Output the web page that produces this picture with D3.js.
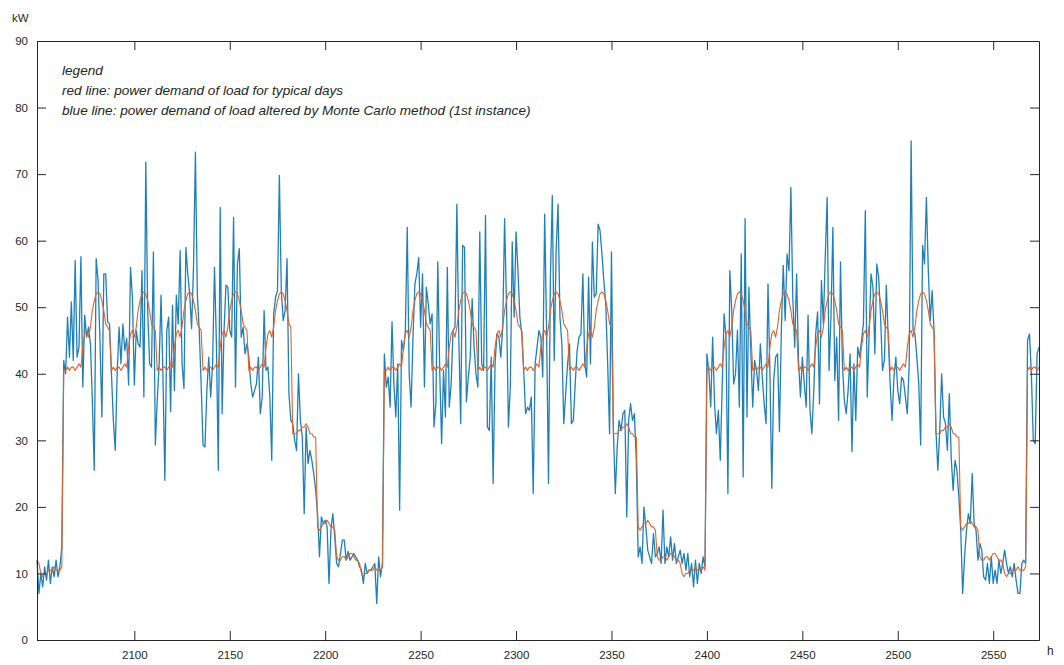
<!doctype html>
<html>
<head>
<meta charset="utf-8">
<title>Power demand of load</title>
<script src="https://cdn.jsdelivr.net/npm/d3@7"></script>
<style>
  body { margin: 0; background: #fff; }
  svg text { font-family: "Liberation Sans", Arial, sans-serif; fill: #262626; }
</style>
</head>
<body>
<svg id="chart" width="1064" height="665"></svg>
<script>
// first hour shown on the chart
var startHour = 2049;

// blue line: load altered by Monte Carlo method, one value per hour from startHour
var blue = [
  12, 7, 10, 8, 11, 9, 12, 8.5, 11, 9.5,
  12, 9.5, 11, 14, 42, 40, 48.5, 42.5, 50.8, 42,
  57, 42.5, 44, 57.6, 38, 48.8, 45.5, 47, 44.5, 36,
  25.5, 57.3, 54, 45, 33.5, 55, 55, 47.8, 47.5, 40,
  33, 28.5, 40, 47, 41.5, 47.5, 43.5, 45.3, 38.3, 56,
  51.5, 38.3, 46.5, 44.5, 44, 55.5, 36.5, 71.8, 49.5, 41.5,
  41, 58.3, 29.3, 36, 41.5, 51.8, 39.5, 24, 46.5, 48.5,
  34.3, 50.3, 37.5, 51.8, 47.5, 58.5, 41.5, 37.8, 59, 55,
  52, 46.8, 56, 73.3, 52, 46.5, 38.5, 29.3, 29, 37.5,
  42.5, 36.5, 41.5, 56, 44.5, 25.5, 65, 34, 46.5, 53.3,
  53, 46.5, 45.5, 63.5, 38, 56.5, 58.8, 45.5, 47, 43,
  44.5, 42.5, 38.5, 36.5, 37.5, 38.5, 42.5, 34, 36.5, 49.5,
  40.5, 41, 36.5, 27, 49, 51.5, 52.5, 69.8, 52.5, 48,
  49.5, 57.3, 37, 33, 32.5, 30, 28.5, 40, 33, 30.5,
  19, 32, 26.5, 28.5, 27, 25, 22.5, 19, 12.5, 18.5,
  17.5, 18, 17, 8.5, 16.5, 19, 15.5, 11.5, 11, 13,
  15, 15, 12, 13.3, 12, 12.5, 13, 12.5, 12, 11,
  10.5, 8.5, 11.5, 10, 10.5, 10.5, 11, 11.5, 5.5, 12.5,
  9.5, 11.5, 43, 38, 39.5, 35, 47.8, 38.5, 33.5, 41.5,
  19.5, 45, 43.5, 46.5, 62, 40, 35, 45.5, 53.5, 55,
  57.5, 47, 55, 38, 53, 50.5, 47.5, 49, 32, 35.5,
  56.8, 40.5, 29.5, 40.5, 33.5, 56, 35, 38.5, 46.5, 47,
  65.5, 45.5, 32.5, 59.3, 59, 35.8, 39.5, 42.5, 51.3, 44,
  40, 38, 61.3, 41.5, 40.5, 63.8, 32, 31.5, 42.5, 23.5,
  41.5, 46, 45.5, 42.5, 46.8, 63.3, 50.5, 32, 38, 59.8,
  48.5, 61.3, 55.5, 48.5, 46, 40.5, 34, 35, 34.5, 36.5,
  22, 41.5, 44, 46.5, 45.5, 39.5, 64, 46.5, 23.5, 54.5,
  66.8, 42, 58.5, 65.5, 48.5, 44.5, 32.5, 37, 41.5, 44.5,
  32.5, 33, 38.5, 43.5, 45.5, 46, 55, 41.5, 39.5, 54.5,
  41.5, 59.8, 51.5, 52, 62.5, 61.5, 58, 54, 50.5, 41.5,
  31, 58.3, 31.5, 22, 29, 33, 31.5, 34, 34.5, 18.5,
  33, 35.5, 33, 34, 27, 12.5, 14, 11.5, 20, 17,
  13.5, 12.5, 11.5, 16, 12.5, 13, 14, 11.5, 19.5, 11.5,
  14, 12.5, 15.5, 12, 14.5, 11.5, 12.5, 13.5, 11.5, 13,
  10.5, 13, 9.5, 11.5, 8, 12, 8.5, 11.5, 10, 12.5,
  11, 43, 40.5, 35, 45.5, 35.5, 31, 34.5, 27, 38,
  49, 45.5, 22, 55.5, 49.5, 38.5, 40, 46.5, 35, 58,
  24.5, 63.3, 33.5, 53, 43.5, 35, 42, 40.5, 37.5, 44.5,
  39.5, 35.5, 32.5, 53.5, 40.5, 22.8, 39, 42.5, 43, 31.3,
  46.5, 56.3, 48, 58, 55.5, 68, 51.5, 44, 55, 42,
  36.5, 42.5, 38.5, 35, 48.8, 34.5, 31, 37.5, 46, 49.3,
  35.5, 54, 47.5, 57.5, 66.5, 40.5, 48.5, 62, 39, 45.5,
  33, 56.8, 41.5, 36, 34, 37.5, 43, 28.3, 41.5, 33,
  44, 42.5, 45, 47.5, 64.5, 36.5, 46, 55, 53, 43,
  56.5, 54.5, 48.5, 40.5, 42, 53.3, 45.5, 38.5, 33, 39.5,
  42.5, 37.5, 35.5, 39.5, 39, 36.5, 34, 41.5, 75, 46.5,
  46, 42.5, 38.5, 29.3, 59.3, 56.5, 66.5, 55.5, 48, 52.5,
  46.5, 31.5, 25.5, 31.5, 40, 33.5, 32.5, 28.5, 37, 27.5,
  22.5, 27, 25.5, 21.5, 16.5, 7, 12.5, 16.5, 19, 17.5,
  25, 17.5, 16.5, 12, 14.5, 13.5, 9.5, 9, 11.5, 8.5,
  12.5, 8.5, 10.5, 8.5, 12, 10, 11.5, 13.5, 11.5, 10,
  11, 9.5, 11.5, 9, 7, 7, 11.5, 12, 11.5, 45,
  46, 40, 30, 29.5, 43, 44
];

// red line: typical working day, by hour of day (0..23)
var weekday = [40.5, 41, 40.5, 41, 41, 40.5, 41, 41.5, 41, 44, 46, 46.5,
               45.5, 47, 49.5, 51, 52, 52.3, 52, 51, 49.5, 47.5, 47, 46.5];

// red line: typical weekend, hours counted from the start of the weekend
var weekend = [31, 31, 31, 31.5, 31.5, 32, 32, 32.5, 32, 31, 31, 30.5, 30.5,
               17, 16.5, 17, 17.5, 17.5, 18, 17.5, 17, 17, 16.5,
               12.5, 12, 12, 12.5, 12.5, 12, 12.5, 13, 13, 12.5, 12, 12, 11.5,
               10, 9.5, 10, 10, 10.5, 10.5, 10.5, 11, 10.5, 10.5, 10.5, 11, 10.5];

var weekStarts = [2063, 2231, 2400, 2568];
var weekendStarts = [2015, 2183, 2351, 2520];

var xTicks = [2100, 2150, 2200, 2250, 2300, 2350, 2400, 2450, 2500, 2550];
var yTicks = [0, 10, 20, 30, 40, 50, 60, 70, 80, 90];

var legendLines = [
  "legend",
  "red line: power demand of load for typical days",
  "blue line: power demand of load altered by Monte Carlo method (1st instance)"
];

var hours = d3.range(startHour, startHour + blue.length);

var red = hours.map(function(h) {
  var wk = d3.max(weekStarts.filter(function(s) { return s <= h; }));
  var we = d3.max(weekendStarts.filter(function(s) { return s <= h; }));
  if (wk === undefined || we > wk) {
    return weekend[Math.min(h - we, weekend.length - 1)];
  }
  return h === wk ? weekday[0] : weekday[h % 24];
});

var svg = d3.select("#chart");
var plotLeft = 37, plotRight = 1039, plotTop = 41, plotBottom = 640;

var x = d3.scaleLinear().domain([startHour, 2574]).range([plotLeft, plotRight]);
var y = d3.scaleLinear().domain([0, 90]).range([plotBottom, plotTop]);

var line = d3.line()
  .x(function(d) { return x(d[0]); })
  .y(function(d) { return y(d[1]); });

svg.append("path")
  .datum(hours.map(function(h, i) { return [h, blue[i]]; }))
  .attr("d", line)
  .attr("fill", "none")
  .attr("stroke", "#1f80b9")
  .attr("stroke-width", 1.3)
  .attr("stroke-linejoin", "round");

svg.append("path")
  .datum(hours.map(function(h, i) { return [h, red[i]]; }))
  .attr("d", line)
  .attr("fill", "none")
  .attr("stroke", "#e0622a")
  .attr("stroke-width", 1.1)
  .attr("stroke-linejoin", "round");

// axes with inward ticks, MATLAB style box
var tick = 9;
var fmt = d3.format("d");
svg.append("g").attr("transform", "translate(0," + plotBottom + ")")
  .call(d3.axisBottom(x).tickValues(xTicks).tickSizeInner(-tick).tickSizeOuter(0).tickPadding(11).tickFormat(fmt));
svg.append("g").attr("transform", "translate(0," + plotTop + ")")
  .call(d3.axisTop(x).tickValues(xTicks).tickSizeInner(-tick).tickSizeOuter(0).tickFormat(""));
svg.append("g").attr("transform", "translate(" + plotLeft + ",0)")
  .call(d3.axisLeft(y).tickValues(yTicks).tickSizeInner(-tick).tickSizeOuter(0).tickPadding(9).tickFormat(fmt));
svg.append("g").attr("transform", "translate(" + plotRight + ",0)")
  .call(d3.axisRight(y).tickValues(yTicks).tickSizeInner(-tick).tickSizeOuter(0).tickFormat(""));

svg.selectAll(".domain").attr("stroke", "#262626");
svg.selectAll(".tick line").attr("stroke", "#262626");
svg.selectAll(".tick text")
  .attr("font-family", "Liberation Sans, Arial, sans-serif")
  .attr("font-size", 11.5)
  .attr("fill", "#262626");

svg.append("text").attr("x", 12).attr("y", 22).attr("font-size", 11.5).text("kW");
svg.append("text").attr("x", 1047).attr("y", 655).attr("font-size", 12).text("h");

svg.append("g").selectAll("text")
  .data(legendLines)
  .enter().append("text")
  .attr("x", 62)
  .attr("y", function(d, i) { return 75 + i * 20; })
  .attr("font-size", 13.6)
  .attr("font-style", "italic")
  .text(function(d) { return d; });
</script>
</body>
</html>
